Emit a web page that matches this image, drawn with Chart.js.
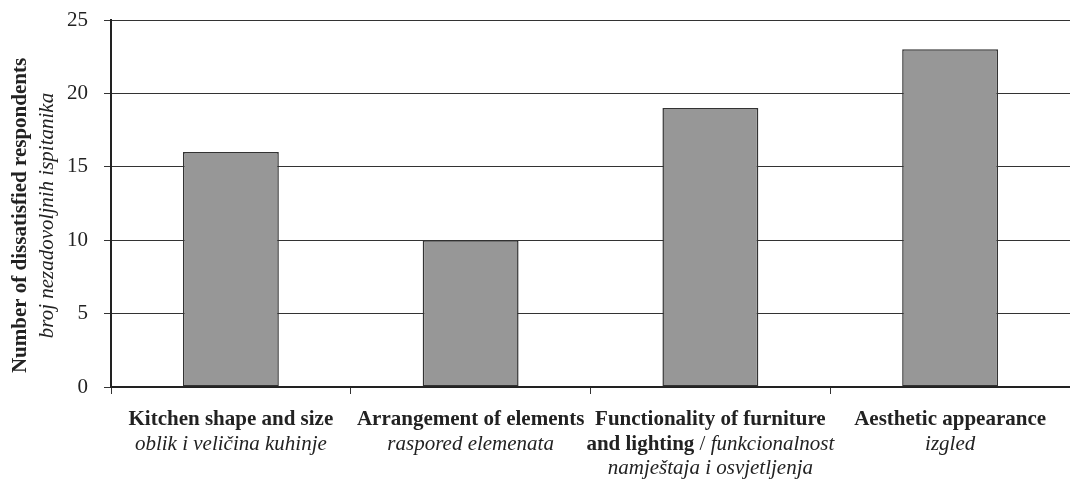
<!DOCTYPE html>
<html>
<head>
<meta charset="utf-8">
<script src="https://cdn.jsdelivr.net/npm/chart.js@4/dist/chart.umd.min.js"></script>
<style>
  html, body { margin: 0; padding: 0; background: #fff; }
  #wrap { width: 1070px; height: 480px; }
</style>
</head>
<body>
<div id="wrap"><canvas id="barChart"></canvas></div>
<script>
// data
const categories = ['Kitchen shape and size', 'Arrangement of elements', 'Functionality of furniture and lighting', 'Aesthetic appearance'];
const categoriesHr = ['oblik i veličina kuhinje', 'raspored elemenata', 'funkcionalnost namještaja i osvjetljenja', 'izgled'];
const values = [16, 10, 19, 23];
const yTicks = [0, 5, 10, 15, 20, 25];
const yTitle = ['Number of dissatisfied respondents', 'broj nezadovoljnih ispitanika'];

// how each category label is split into lines (b = bold, r = regular, i = italic)
const labelLines = [
  [[['b', categories[0]]], [['i', categoriesHr[0]]]],
  [[['b', categories[1]]], [['i', categoriesHr[1]]]],
  [[['b', 'Functionality of furniture']], [['b', 'and lighting'], ['r', ' / '], ['i', 'funkcionalnost']], [['i', 'namještaja i osvjetljenja']]],
  [[['b', categories[3]]], [['i', categoriesHr[3]]]]
];

const FONT = '"Liberation Serif", serif';
const TEXT = '#222222';

function fontFor(style) {
  if (style === 'b') return 'bold 21px ' + FONT;
  if (style === 'i') return 'italic 21px ' + FONT;
  return '21px ' + FONT;
}

// draws the mixed bold / italic labels under the axis and the y title
const textPlugin = {
  id: 'mixedText',
  afterDraw: function (chart) {
    const ctx = chart.ctx;
    const xScale = chart.scales.x;
    const area = chart.chartArea;
    ctx.save();
    ctx.fillStyle = TEXT;
    ctx.textBaseline = 'alphabetic';
    ctx.textAlign = 'left';
    labelLines.forEach(function (lines, i) {
      const cx = xScale.getPixelForValue(i);
      lines.forEach(function (segs, j) {
        let total = 0;
        segs.forEach(function (s) { ctx.font = fontFor(s[0]); total += ctx.measureText(s[1]).width; });
        let x = cx - total / 2;
        const y = area.bottom + 38 + j * 24.5;
        segs.forEach(function (s) {
          ctx.font = fontFor(s[0]);
          ctx.fillText(s[1], x, y);
          x += ctx.measureText(s[1]).width;
        });
      });
    });

    // rotated axis title
    const midY = (area.top + area.bottom) / 2 + 12;
    ctx.translate(0, midY);
    ctx.rotate(-Math.PI / 2);
    ctx.textAlign = 'center';
    ctx.textBaseline = 'middle';
    ctx.font = fontFor('b');
    ctx.fillText(yTitle[0], 0, 21);
    ctx.font = fontFor('i');
    ctx.fillText(yTitle[1], 0, 47);
    ctx.restore();
  }
};

const ctx = document.getElementById('barChart').getContext('2d');
const barChart = new Chart(ctx, {
  type: 'bar',
  data: {
    labels: categories,
    datasets: [{
      data: values,
      backgroundColor: '#979797',
      borderColor: '#333333',
      borderWidth: 1.5,
      borderSkipped: false,
      categoryPercentage: 0.4,
      barPercentage: 1
    }]
  },
  options: {
    responsive: true,
    maintainAspectRatio: false,
    animation: false,
    layout: { padding: { top: 20, right: 0, left: 0, bottom: 0 } },
    plugins: {
      legend: { display: false },
      tooltip: { enabled: false }
    },
    scales: {
      x: {
        offset: true,
        grid: {
          offset: true,
          drawOnChartArea: false,
          drawTicks: true,
          tickLength: 7,
          color: '#333333',
          lineWidth: 1
        },
        border: { display: true, color: '#222222', width: 2 },
        ticks: { callback: function () { return ''; } },
        afterFit: function (scale) { scale.height = 93; }
      },
      y: {
        min: 0,
        max: 25,
        afterBuildTicks: function (scale) {
          scale.ticks = yTicks.map(function (v) { return { value: v }; });
        },
        grid: {
          color: '#333333',
          lineWidth: 1,
          tickLength: 7
        },
        border: { display: true, color: '#222222', width: 2 },
        ticks: {
          padding: 16,
          color: TEXT,
          font: { family: FONT, size: 21 }
        },
        afterFit: function (scale) {
          scale.width = 111;
          scale.paddingTop = 0;
          scale.paddingBottom = 0;
        }
      }
    }
  },
  plugins: [textPlugin]
});
</script>
</body>
</html>
